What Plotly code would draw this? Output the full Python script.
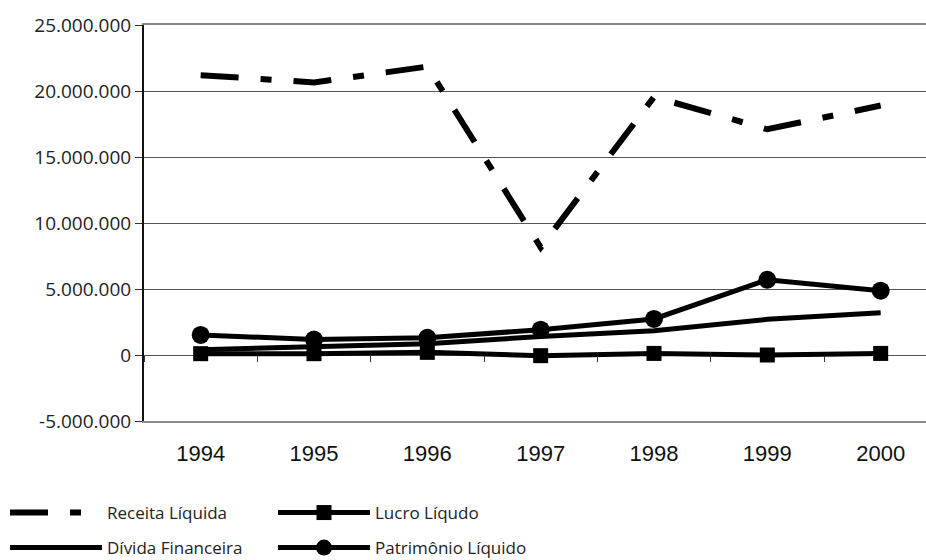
import plotly.graph_objects as go

# Annual figures (R$)
anos = ["1994", "1995", "1996", "1997", "1998", "1999", "2000"]
receita_liquida = [21200000, 20650000, 21850000, 8150000, 19550000, 17100000, 18900000]
lucro_liquido = [100000, 100000, 200000, -50000, 120000, 0, 120000]
divida_financeira = [400000, 630000, 850000, 1400000, 1840000, 2700000, 3200000]
patrimonio_liquido = [1520000, 1170000, 1300000, 1920000, 2730000, 5700000, 4870000]

y_tick_vals = [-5000000, 0, 5000000, 10000000, 15000000, 20000000, 25000000]
y_tick_text = ["-5.000.000", "0", "5.000.000", "10.000.000", "15.000.000", "20.000.000", "25.000.000"]

fig = go.Figure()

fig.add_trace(go.Scatter(
    x=anos, y=receita_liquida, name="Receita Líquida", mode="lines",
    line=dict(color="black", width=6, dash="38px,22px,11px,22px"),
    legend="legend",
))
fig.add_trace(go.Scatter(
    x=anos, y=lucro_liquido, name="Lucro Líqudo", mode="lines+markers",
    line=dict(color="black", width=5),
    marker=dict(symbol="square", size=15, color="black"),
    legend="legend",
))
fig.add_trace(go.Scatter(
    x=anos, y=divida_financeira, name="Dívida Financeira", mode="lines",
    line=dict(color="black", width=5),
    legend="legend2",
))
fig.add_trace(go.Scatter(
    x=anos, y=patrimonio_liquido, name="Patrimônio Líquido", mode="lines+markers",
    line=dict(color="black", width=5),
    marker=dict(symbol="circle", size=18, color="black"),
    legend="legend2",
))
# helper trace so the category axis crossing at zero gets its ticks
fig.add_trace(go.Scatter(
    x=anos, y=[None] * len(anos), xaxis="x2", mode="lines",
    showlegend=False, hoverinfo="skip",
))

legend_common = dict(
    orientation="h", xref="container", yref="container",
    xanchor="left", yanchor="middle",
    font=dict(family="Open Sans", size=17, color="#222"),
    itemwidth=92, entrywidth=161, entrywidthmode="pixels",
    bgcolor="rgba(0,0,0,0)", traceorder="normal",
)

fig.update_layout(
    width=926, height=560,
    margin=dict(l=144, r=0, t=25, b=139),
    paper_bgcolor="white", plot_bgcolor="white",
    showlegend=True,
    legend=dict(x=5 / 926, y=1 - 513 / 560, **legend_common),
    legend2=dict(x=5 / 926, y=1 - 548 / 560, **legend_common),
    xaxis=dict(
        type="category", categoryorder="array", categoryarray=anos,
        range=[-0.5, 6.4], showgrid=False, zeroline=False,
        showline=True, mirror=True, linecolor="#8a8a8a", linewidth=2,
        ticks="", ticklabelstandoff=12,
        tickfont=dict(family="Liberation Sans", size=22, color="#111"),
    ),
    xaxis2=dict(
        type="category", categoryorder="array", categoryarray=anos,
        range=[-0.5, 6.4], overlaying="x", anchor="free", position=1 / 6,
        side="bottom", showgrid=False, zeroline=False, showline=False,
        showticklabels=False, ticks="outside", tickson="boundaries",
        ticklen=6, tickwidth=1, tickcolor="#333",
    ),
    yaxis=dict(
        range=[-5000000, 25000000], tickvals=y_tick_vals, ticktext=y_tick_text,
        showgrid=True, gridcolor="#555", gridwidth=1, zeroline=False,
        showline=True, linecolor="#111", linewidth=2,
        ticks="outside", ticklen=7, tickwidth=1, tickcolor="#333",
        tickfont=dict(family="Open Sans", size=19, color="#222"),
    ),
)

fig.write_html("out.html")
